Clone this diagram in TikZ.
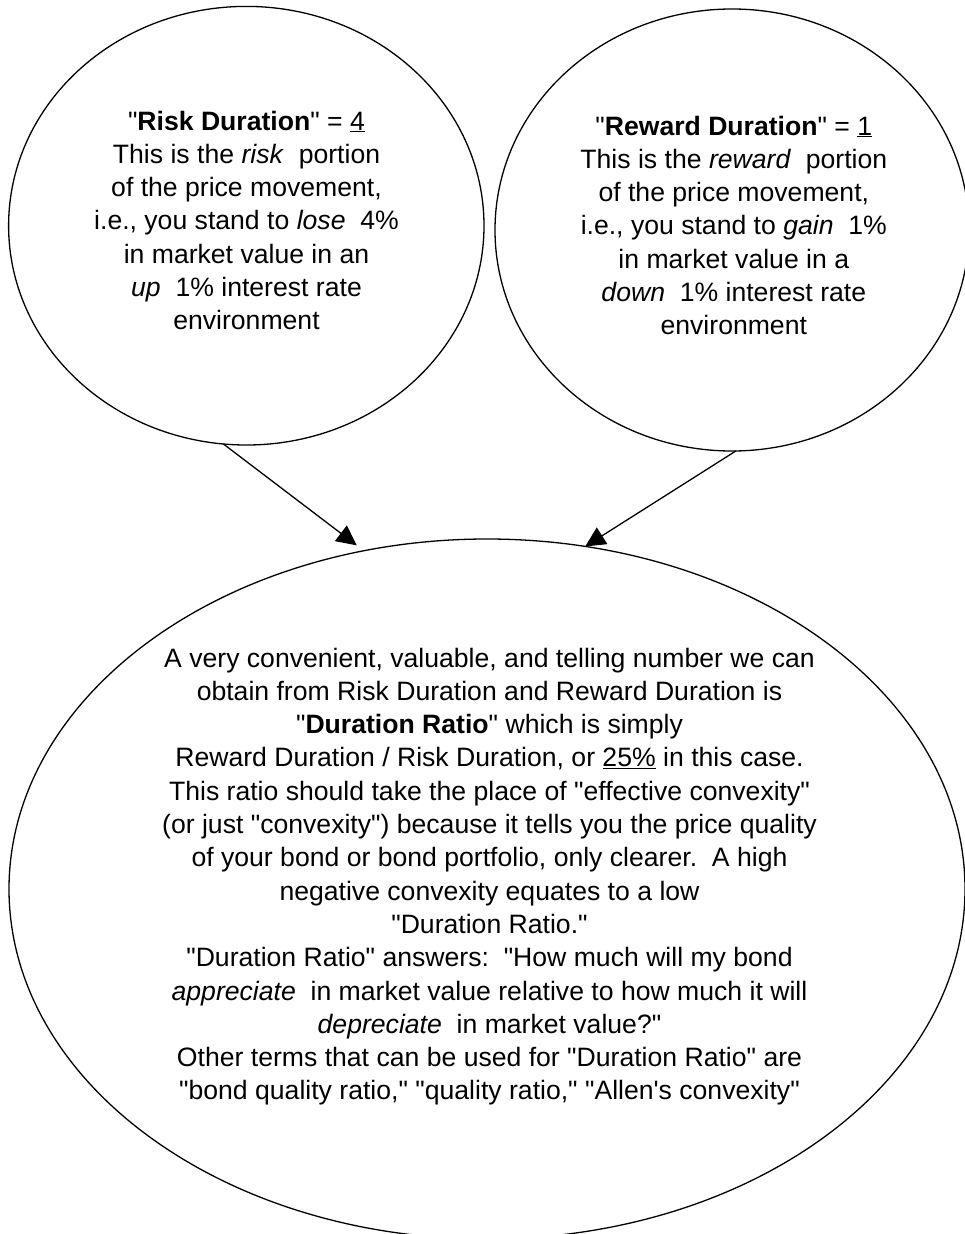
\documentclass[tikz,border=0pt]{standalone}
\usepackage{fontspec}
\setmainfont{Liberation Sans}[Ligatures=TeXOff]
\usetikzlibrary{shapes.geometric,arrows.meta}
\begin{document}
\begin{tikzpicture}[x=1pt,y=-1pt,
  bubble/.style={ellipse,draw=black,line width=1.3pt,inner sep=0pt,outer sep=0pt},
  bubbletext/.style={anchor=base,inner sep=0pt,font=\fontsize{26.6}{33.3}\selectfont},
  link/.style={line width=1.3pt,-{Triangle[length=20pt,width=19.5pt]}}]
\useasboundingbox[fill=white] (0,0) rectangle (964,1234);

\node[bubble,minimum width=475.4pt,minimum height=438.6pt] (L) at (246.3,225.7) {};
\node[bubble,minimum width=474pt,minimum height=442pt] (R) at (732,230) {};
\node[bubble,minimum width=956pt,minimum height=700pt] (B) at (487,889) {};

\node[bubbletext] (LT) at (246.5,130) {\begin{tabular}[t]{@{}c@{}}
"\textbf{Risk Duration}" = \underline{4}\\
This is the \textit{risk}\ \ portion\\
of the price movement,\\
i.e., you stand to \textit{lose}\ \ 4\%\\
in market value in an\\
\textit{up}\ \ 1\% interest rate\\
environment
\end{tabular}};

\node[bubbletext] (RT) at (733.8,135) {\begin{tabular}[t]{@{}c@{}}
"\textbf{Reward Duration}" = \underline{1}\\
This is the \textit{reward}\ \ portion\\
of the price movement,\\
i.e., you stand to \textit{gain}\ \ 1\%\\
in market value in a\\
\textit{down}\ \ 1\% interest rate\\
environment
\end{tabular}};

\node[bubbletext] (BT) at (489.5,667) {\begin{tabular}[t]{@{}c@{}}
A very convenient, valuable, and telling number we can\\
obtain from Risk Duration and Reward Duration is\\
"\textbf{Duration Ratio}" which is simply\\
Reward Duration / Risk Duration, or \underline{25\%} in this case.\\
This ratio should take the place of "effective convexity"\\
(or just "convexity") because it tells you the price quality\\
of your bond or bond portfolio, only clearer.\ \ A high\\
negative convexity equates to a low\\
"Duration Ratio."\\
"Duration Ratio" answers:\ \ "How much will my bond\\
\textit{appreciate}\ \ in market value relative to how much it will\\
\textit{depreciate}\ \ in market value?"\\
Other terms that can be used for "Duration Ratio" are\\
"bond quality ratio," "quality ratio," "Allen's convexity"
\end{tabular}};

\draw[link,shorten >=9pt] (L.-96.5) -- (B.110.1);
\draw[link] (R.-89.5) -- (B.74.2);
\end{tikzpicture}
\end{document}
